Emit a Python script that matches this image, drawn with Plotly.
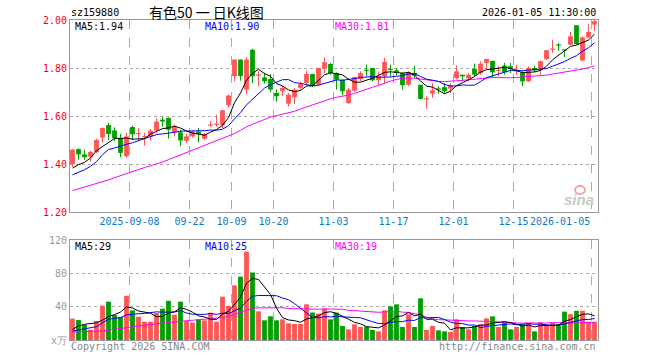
import plotly.graph_objects as go

# ---------------- data ----------------
opens = [1.400, 1.462, 1.440, 1.430, 1.450, 1.510, 1.5625, 1.540, 1.510, 1.432,
         1.554, 1.524, 1.512, 1.515, 1.540, 1.585, 1.592, 1.532, 1.532, 1.497,
         1.515, 1.535, 1.505, 1.560, 1.563, 1.562, 1.645, 1.766, 1.835, 1.710,
         1.876, 1.768, 1.761, 1.754, 1.696, 1.703, 1.651, 1.678, 1.717, 1.738,
         1.775, 1.731, 1.797, 1.817, 1.779, 1.751, 1.654, 1.706, 1.754, 1.791,
         1.800, 1.749, 1.765, 1.795, 1.790, 1.779, 1.730, 1.780, 1.730, 1.669,
         1.693, 1.714, 1.720, 1.714, 1.758, 1.772, 1.758, 1.797, 1.779, 1.821,
         1.830, 1.788, 1.810, 1.807, 1.785, 1.782, 1.744, 1.800, 1.793, 1.837,
         1.876, 1.896, 1.876, 1.897, 1.978, 1.831, 1.928, 1.981]
highs = [1.462, 1.465, 1.460, 1.455, 1.505, 1.553, 1.572, 1.553, 1.525, 1.530,
         1.560, 1.550, 1.530, 1.546, 1.590, 1.596, 1.594, 1.564, 1.543, 1.526,
         1.540, 1.550, 1.530, 1.580, 1.605, 1.626, 1.690, 1.836, 1.836, 1.845,
         1.880, 1.786, 1.780, 1.775, 1.710, 1.724, 1.696, 1.717, 1.742, 1.789,
         1.776, 1.800, 1.844, 1.821, 1.782, 1.753, 1.717, 1.765, 1.786, 1.814,
         1.800, 1.786, 1.842, 1.814, 1.800, 1.782, 1.786, 1.810, 1.730, 1.682,
         1.737, 1.724, 1.737, 1.737, 1.810, 1.772, 1.779, 1.818, 1.828, 1.838,
         1.830, 1.807, 1.821, 1.821, 1.814, 1.786, 1.807, 1.810, 1.832, 1.876,
         1.918, 1.904, 1.876, 1.950, 1.978, 1.932, 1.983, 2.000]
lows = [1.388, 1.418, 1.418, 1.410, 1.445, 1.490, 1.500, 1.495, 1.428, 1.425,
        1.500, 1.500, 1.476, 1.498, 1.530, 1.555, 1.505, 1.515, 1.473, 1.487,
        1.510, 1.490, 1.500, 1.555, 1.556, 1.550, 1.636, 1.745, 1.747, 1.690,
        1.737, 1.724, 1.735, 1.700, 1.660, 1.682, 1.640, 1.650, 1.710, 1.733,
        1.720, 1.724, 1.779, 1.772, 1.710, 1.686, 1.650, 1.700, 1.744, 1.765,
        1.744, 1.728, 1.735, 1.765, 1.768, 1.710, 1.725, 1.758, 1.668, 1.630,
        1.675, 1.693, 1.693, 1.696, 1.754, 1.744, 1.744, 1.765, 1.772, 1.796,
        1.762, 1.765, 1.772, 1.779, 1.772, 1.724, 1.742, 1.783, 1.772, 1.834,
        1.862, 1.872, 1.846, 1.894, 1.897, 1.828, 1.925, 1.953]
closes = [1.460, 1.440, 1.428, 1.450, 1.500, 1.550, 1.525, 1.507, 1.446, 1.515,
          1.524, 1.528, 1.516, 1.539, 1.577, 1.577, 1.543, 1.554, 1.498, 1.515,
          1.535, 1.525, 1.525, 1.565, 1.568, 1.624, 1.685, 1.835, 1.766, 1.835,
          1.766, 1.772, 1.745, 1.710, 1.682, 1.717, 1.689, 1.710, 1.733, 1.775,
          1.724, 1.800, 1.824, 1.779, 1.751, 1.703, 1.710, 1.762, 1.779, 1.788,
          1.749, 1.767, 1.825, 1.792, 1.780, 1.728, 1.783, 1.768, 1.671, 1.672,
          1.707, 1.710, 1.703, 1.727, 1.786, 1.765, 1.772, 1.772, 1.818, 1.838,
          1.782, 1.792, 1.782, 1.796, 1.788, 1.744, 1.800, 1.790, 1.828, 1.874,
          1.879, 1.893, 1.873, 1.932, 1.900, 1.928, 1.950, 1.995]
volumes = [25.6, 24.0, 18.4, 12.4, 22.8, 41.3, 46.0, 30.0, 27.6, 53.0,
           35.6, 28.0, 22.0, 22.0, 32.4, 37.6, 47.0, 30.4, 46.0, 22.8,
           20.8, 24.8, 23.6, 32.8, 22.0, 52.0, 41.0, 65.6, 76.0, 106.0,
           81.0, 34.4, 23.6, 28.4, 23.6, 24.8, 20.0, 19.2, 19.2, 42.8,
           33.0, 31.6, 37.6, 24.8, 32.8, 16.8, 12.8, 18.8, 15.6, 16.0,
           12.0, 10.4, 35.6, 40.4, 42.8, 15.6, 30.8, 15.6, 50.0, 12.0,
           16.8, 11.6, 10.4, 9.6, 24.8, 15.6, 12.8, 16.8, 18.8, 26.0,
           28.4, 15.6, 21.6, 12.8, 15.6, 18.8, 20.8, 10.4, 21.0, 17.6,
           21.0, 19.0, 34.0, 31.0, 35.0, 35.0, 22.0, 22.0]

# moving-average values at the left edge (they depend on days before the window)
ma5_head = [1.383, 1.397, 1.407, 1.425]
ma10_head = [1.355, 1.365, 1.376, 1.390, 1.410, 1.439, 1.460, 1.467, 1.476]
ma30_head = [1.289, 1.296, 1.303, 1.311, 1.318, 1.325, 1.334, 1.343, 1.352, 1.362,
             1.370, 1.377, 1.385, 1.392, 1.399, 1.408, 1.418, 1.428, 1.438, 1.448,
             1.458, 1.467, 1.477, 1.486, 1.495, 1.505, 1.515, 1.527, 1.540]
vma5_head = [12.8, 16.8, 18.8, 20.0]
vma10_head = [10.8, 12.0, 12.8, 14.8, 16.0, 20.8, 24.8, 26.0, 26.8]
vma30_head = [9.6, 9.8, 10.0, 10.2, 10.5, 10.8, 11.8, 12.8, 14.0, 15.5,
              16.5, 17.2, 18.0, 18.8, 19.5, 20.0, 20.5, 21.5, 22.5, 23.2,
              23.6, 24.2, 24.8, 25.4, 26.0, 26.8, 28.5, 30.8, 33.5]

tick_index = [10, 20, 27, 34, 44, 54, 64, 74, 87]
tick_labels = ["2025-09-08", "09-22", "10-09", "10-20", "11-03", "11-17",
               "12-01", "12-15", "2026-01-05"]
price_ticks = [1.20, 1.40, 1.60, 1.80, 2.00]
vol_ticks = [0, 40, 80, 120]
vol_tick_text = ["x万", "40", "80", "120"]
ma_price_text = ["MA5:1.94", "MA10:1.90", "MA30:1.81"]
ma_vol_text = ["MA5:29", "MA10:25", "MA30:19"]
code = "sz159880"
title = "有色50 一 日K线图"
stamp = "2026-01-05 11:30:00"

# ---------------- helpers ----------------
def moving(vals, n, head):
    out = list(head)
    for i in range(len(head), len(vals)):
        w = vals[i - n + 1:i + 1]
        out.append(sum(w) / n)
    return out

N = len(closes)
xs = list(range(N))
RED = "#ff5555"
GREEN = "#00a000"
MONO = "DejaVu Sans Mono"
up = [c >= o for o, c in zip(opens, closes)]
colors = [RED if u else GREEN for u in up]

W, H = 660, 360
L, R, T, B = 70, 62, 20, 20


def px(x):
    return (x - L) / (W - L - R)


def py(y):
    return (H - B - y) / (H - T - B)


fig = go.Figure()

# wicks
for flag, col in ((True, RED), (False, GREEN)):
    wx, wy = [], []
    for i in xs:
        if up[i] == flag:
            wx += [i, i, None]
            wy += [lows[i], highs[i], None]
    fig.add_trace(go.Scatter(x=wx, y=wy, mode="lines", line=dict(color=col, width=1),
                             hoverinfo="skip", showlegend=False, xaxis="x", yaxis="y"))

# bodies
base = [min(o, c) for o, c in zip(opens, closes)]
height = [max(abs(c - o), 0.005) for o, c in zip(opens, closes)]
fig.add_trace(go.Bar(x=xs, y=height, base=base, width=0.8,
                     marker=dict(color=colors, line=dict(width=0)),
                     showlegend=False, xaxis="x", yaxis="y"))

# price MAs
for vals, col in ((moving(closes, 30, ma30_head), "#ff00ff"),
                  (moving(closes, 10, ma10_head), "#0000ff"),
                  (moving(closes, 5, ma5_head), "#000000")):
    fig.add_trace(go.Scatter(x=xs, y=vals, mode="lines", line=dict(color=col, width=1),
                             showlegend=False, xaxis="x", yaxis="y"))

# volume
fig.add_trace(go.Bar(x=xs, y=volumes, width=0.8,
                     marker=dict(color=colors, line=dict(width=0)),
                     showlegend=False, xaxis="x2", yaxis="y2"))
for vals, col in ((moving(volumes, 30, vma30_head), "#ff00ff"),
                  (moving(volumes, 10, vma10_head), "#0000ff"),
                  (moving(volumes, 5, vma5_head), "#000000")):
    fig.add_trace(go.Scatter(x=xs, y=vals, mode="lines", line=dict(color=col, width=1),
                             showlegend=False, xaxis="x2", yaxis="y2"))

shift = 1 / 12
xr = [-0.5 + shift, N - 0.5 + shift]
grid_x = [t - 0.5 for t in tick_index]
xt_text = tick_labels[:-1] + [""]

common_x = dict(range=xr, tickmode="array", tickvals=grid_x, showgrid=True,
                gridcolor="#aaaaaa", griddash="dash", gridwidth=1, zeroline=False,
                showline=True, mirror=True, linecolor="#999999", linewidth=1, ticks="")

fig.update_layout(
    width=W, height=H, margin=dict(l=L, r=R, t=T, b=B, autoexpand=False),
    paper_bgcolor="white", plot_bgcolor="white", barmode="overlay",
    xaxis=dict(domain=[0, 1], anchor="y", ticktext=xt_text, automargin=False,
               tickfont=dict(family=MONO, size=10, color="#0a7acc"), **common_x),
    yaxis=dict(domain=[py(212), 1.0], range=[1.2, 2.0], tickmode="array",
               tickvals=price_ticks, ticktext=["%.2f" % v for v in price_ticks],
               tickfont=dict(family=MONO, size=10, color="#ff0000"), automargin=False,
               showgrid=True, gridcolor="#aaaaaa", griddash="dot", zeroline=False,
               showline=True, mirror=True, linecolor="#999999", ticks=""),
    xaxis2=dict(domain=[0, 1], anchor="y2", ticktext=[""] * len(grid_x),
                showticklabels=False, automargin=False, **common_x),
    yaxis2=dict(domain=[0, py(240)], range=[0, 120], tickmode="array",
                tickvals=vol_ticks, ticktext=vol_tick_text, automargin=False,
                tickfont=dict(family=MONO, size=10, color="#999999"),
                showgrid=True, gridcolor="#aaaaaa", griddash="dot", zeroline=False,
                showline=True, mirror=True, linecolor="#999999", ticks=""),
    hovermode=False,
)


def note(text, x, y, anchor="left", color="#000000", size=10, family=MONO, **kw):
    fig.add_annotation(text=text, x=px(x), y=py(y), xref="paper", yref="paper",
                       xanchor=anchor, yanchor="middle", showarrow=False,
                       font=dict(family=family, size=size, color=color), **kw)


ma_cols = ["#000000", "#0000ff", "#ff00ff"]
ma_x = [73, 203, 333]
for t, c, x in zip(ma_price_text, ma_cols, ma_x):
    note(t, x, 27, color=c)
for t, c, x in zip(ma_vol_text, ma_cols, ma_x):
    note(t, x, 246, color=c)

note(code, 69, 13)
note(title, 206, 12, anchor="center", size=14, family="Noto Sans CJK SC")
note(stamp, 598, 13, anchor="right")
note(tick_labels[-1], 592, 221, anchor="right", color="#0a7acc")
note("Copyright 2026 SINA.COM", 69, 346, color="#888888")
note("http://finance.sina.com.cn", 598, 346, anchor="right", color="#888888")
note("<b><i>sina</i></b>", 579, 199, anchor="center", size=15,
     family="Liberation Sans", color="#c8c8c8")
fig.add_shape(type="circle", xref="paper", yref="paper",
              x0=px(575), x1=px(585), y0=py(194), y1=py(186),
              line=dict(color="#f4a4a4", width=2))

fig.write_html("out.html", config={"displayModeBar": False, "staticPlot": True},
               post_script="document.body.style.margin='0';")
